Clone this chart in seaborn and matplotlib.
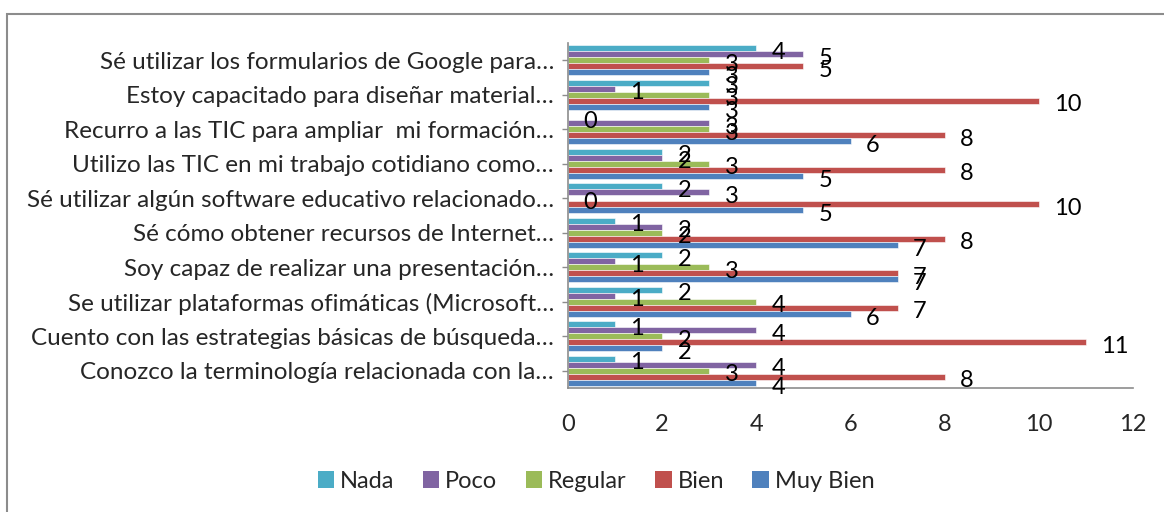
import matplotlib
matplotlib.use("Agg")
import matplotlib.pyplot as plt
import seaborn as sns
import pandas as pd
from matplotlib.patches import Rectangle, Patch

categories = [
    "Sé utilizar los formularios de Google para…",
    "Estoy capacitado para diseñar material…",
    "Recurro a las TIC para ampliar  mi formación…",
    "Utilizo las TIC en mi trabajo cotidiano como…",
    "Sé utilizar algún software educativo relacionado…",
    "Sé cómo obtener recursos de Internet…",
    "Soy capaz de realizar una presentación…",
    "Se utilizar plataformas ofimáticas (Microsoft…",
    "Cuento con las estrategias básicas de búsqueda…",
    "Conozco la terminología relacionada con la…",
]
series = ["Nada", "Poco", "Regular", "Bien", "Muy Bien"]
nada = [4, 3, 0, 2, 2, 1, 2, 2, 1, 1]
poco = [5, 1, 3, 2, 3, 2, 1, 1, 4, 4]
regular = [3, 3, 3, 3, 0, 2, 3, 4, 2, 3]
bien = [5, 10, 8, 8, 10, 8, 7, 7, 11, 8]
muy_bien = [3, 3, 6, 5, 5, 7, 7, 6, 2, 4]
x_ticks = [0, 2, 4, 6, 8, 10, 12]
colors = ["#4BACC6", "#8064A2", "#9BBB59", "#C0504D", "#4F81BD"]

values = [nada, poco, regular, bien, muy_bien]
rows = []
for s, vals in zip(series, values):
    for c, v in zip(categories, vals):
        rows.append({"cat": c, "serie": s, "val": v})
df = pd.DataFrame(rows)

sns.set_style("white")
plt.rcParams["font.family"] = ["Lato", "DejaVu Sans"]

fig = plt.figure(figsize=(11.64, 5.12), dpi=100)
ax = fig.add_axes([568 / 1164, 1 - 388 / 512, (1133 - 568) / 1164, (388 - 43) / 512])

sns.barplot(data=df, y="cat", x="val", hue="serie", order=categories,
            hue_order=series, palette=colors, orient="h", width=0.88,
            saturation=1, ax=ax, legend=False, edgecolor="white", linewidth=0.4)

for cont in ax.containers:
    for bar in cont:
        w = bar.get_width()
        yc = bar.get_y() + bar.get_height() / 2
        ax.annotate(f"{int(w)}", (w, yc), xytext=(11, -3), textcoords="offset points",
                    ha="left", va="center", fontsize=17, color="black",
                    annotation_clip=False)

ax.set_xlim(0, 12)
ax.set_xticks(x_ticks)
ax.set_xticklabels([str(t) for t in x_ticks], fontsize=17)
ax.tick_params(axis="x", length=0, pad=19)
ax.tick_params(axis="y", length=4, width=1, color="#8C8C8C", direction="out",
               left=True, pad=6, labelsize=17.5)
ax.set_xlabel("")
ax.set_ylabel("")
for sp in ["top", "right"]:
    ax.spines[sp].set_visible(False)
for sp in ["left", "bottom"]:
    ax.spines[sp].set_color("#8C8C8C")
    ax.spines[sp].set_linewidth(1.2)

handles = [Patch(facecolor=c, edgecolor="none") for c in colors]
fig.legend(handles, series, loc="center", bbox_to_anchor=(596 / 1164, 1 - 481 / 512),
           ncol=5, frameon=False, fontsize=17, handlelength=0.7, handleheight=0.7,
           handletextpad=0.25, columnspacing=1.2)

fig.patches.append(Rectangle((7 / 1164, -0.1), 1.2, 1 - 14 / 512 + 0.1,
                             transform=fig.transFigure, fill=False,
                             edgecolor="#8C8C8C", linewidth=1.5))

fig.savefig("out.png", dpi=100)
